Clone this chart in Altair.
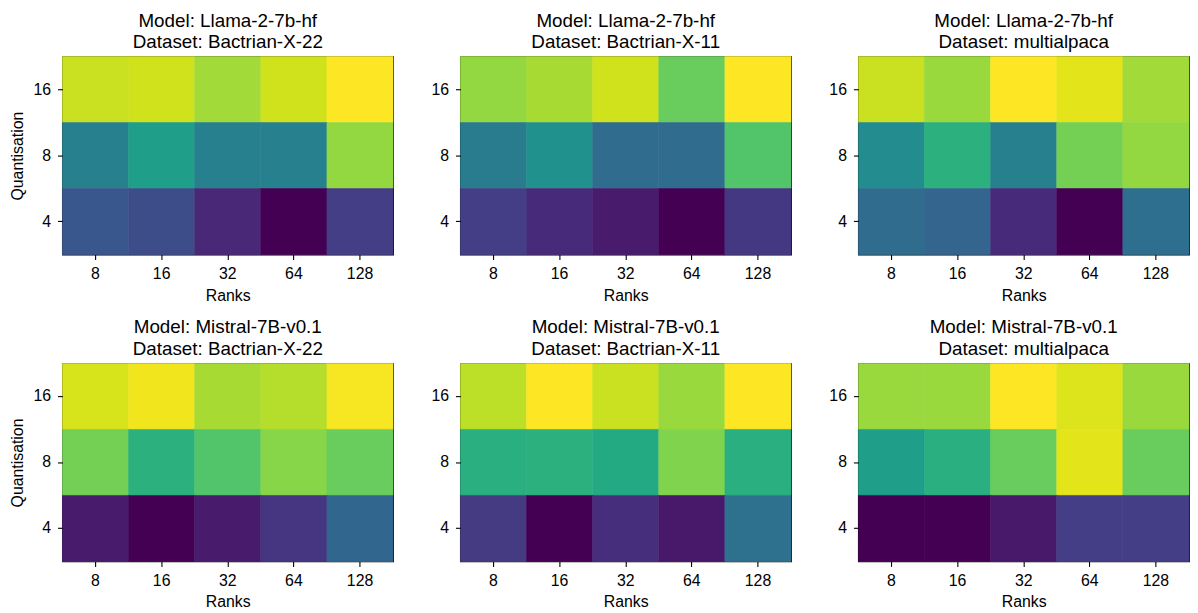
import altair as alt
import pandas as pd

ranks = ["8", "16", "32", "64", "128"]
quants = ["16", "8", "4"]

# normalised scores (rows: quantisation 16, 8, 4)
llama_bx22 = [[0.92, 0.93, 0.86, 0.93, 1.00],
              [0.43, 0.56, 0.43, 0.43, 0.84],
              [0.27, 0.23, 0.11, 0.00, 0.18]]
llama_bx11 = [[0.84, 0.87, 0.93, 0.77, 1.00],
              [0.41, 0.50, 0.35, 0.35, 0.73],
              [0.18, 0.12, 0.07, 0.00, 0.16]]
llama_malp = [[0.92, 0.85, 1.00, 0.96, 0.86],
              [0.48, 0.64, 0.43, 0.79, 0.84],
              [0.35, 0.32, 0.12, 0.00, 0.36]]
mistral_bx22 = [[0.94, 0.98, 0.87, 0.89, 0.99],
                [0.79, 0.64, 0.73, 0.82, 0.77],
                [0.07, 0.00, 0.07, 0.15, 0.33]]
mistral_bx11 = [[0.90, 1.00, 0.92, 0.85, 1.00],
                [0.63, 0.64, 0.61, 0.81, 0.63],
                [0.17, 0.00, 0.13, 0.06, 0.37]]
mistral_malp = [[0.85, 0.85, 1.00, 0.95, 0.85],
                [0.56, 0.63, 0.77, 0.96, 0.77],
                [0.00, 0.00, 0.06, 0.18, 0.18]]

models = ["Llama-2-7b-hf", "Mistral-7B-v0.1"]
datasets = ["Bactrian-X-22", "Bactrian-X-11", "multialpaca"]
grids = [[llama_bx22, llama_bx11, llama_malp],
         [mistral_bx22, mistral_bx11, mistral_malp]]

FONT = "Liberation Sans"


def panel(model, dataset, vals, show_ytitle):
    rows = []
    for qi, q in enumerate(quants):
        for ri, r in enumerate(ranks):
            rows.append({"rank": r, "quant": q, "score": vals[qi][ri]})
    df = pd.DataFrame(rows)
    ytitle = "Quantisation" if show_ytitle else ""
    cscale = alt.Scale(scheme="viridis", domain=[0, 1])
    return alt.Chart(df).mark_rect(strokeWidth=0.6).encode(
        x=alt.X("rank:N", sort=ranks, title="Ranks",
                scale=alt.Scale(paddingInner=0, paddingOuter=0),
                axis=alt.Axis(labelAngle=0, labelPadding=6, titlePadding=6)),
        y=alt.Y("quant:N", sort=quants, title=ytitle,
                scale=alt.Scale(paddingInner=0, paddingOuter=0),
                axis=alt.Axis(labelPadding=7, titlePadding=8)),
        color=alt.Color("score:Q", scale=cscale, legend=None),
        stroke=alt.Stroke("score:Q", scale=cscale, legend=None),
    ).properties(
        width=334, height=200,
        title=alt.TitleParams([f"Model: {model}", f"Dataset: {dataset}"],
                              anchor="middle", frame="group", fontSize=19,
                              font=FONT, fontWeight="normal", color="black",
                              offset=4, lineHeight=22),
    )


rows_c = []
for mi, m in enumerate(models):
    panels = [panel(m, d, grids[mi][di], di == 0) for di, d in enumerate(datasets)]
    rows_c.append(alt.hconcat(*panels, spacing=36))

chart = alt.vconcat(*rows_c, spacing=14).properties(
    padding={"left": 0, "top": 0, "right": 0, "bottom": 0}
).configure_view(
    stroke="black", strokeWidth=1.2
).configure_axis(
    domain=False, ticks=True, tickColor="black", tickSize=5, tickWidth=1.1,
    labelFont=FONT, labelFontSize=16, labelColor="black",
    titleFont=FONT, titleFontSize=16, titleFontWeight="normal", titleColor="black",
    grid=False,
)

chart.save("out.html", embed_options={"renderer": "svg", "actions": False})
